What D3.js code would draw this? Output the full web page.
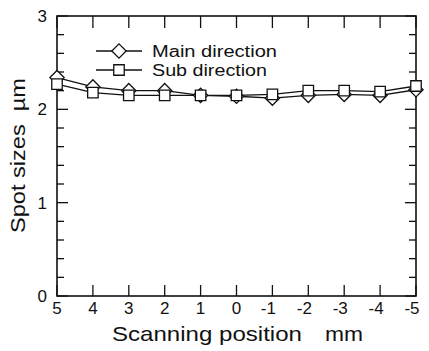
<!DOCTYPE html>
<html>
<head>
<meta charset="utf-8">
<script src="https://cdn.jsdelivr.net/npm/d3@7"></script>
<style>
  body { margin: 0; background: #fff; }
  svg { display: block; font-family: "Liberation Sans", Arial, sans-serif; }
</style>
</head>
<body>
<svg width="429" height="351"></svg>
<script>
// scanning positions, mm
const positions = [5, 4, 3, 2, 1, 0, -1, -2, -3, -4, -5];
// spot sizes, um
const mainDir = [2.34, 2.24, 2.20, 2.20, 2.15, 2.14, 2.12, 2.15, 2.16, 2.15, 2.21];
const subDir = [2.27, 2.18, 2.15, 2.15, 2.15, 2.15, 2.16, 2.20, 2.20, 2.19, 2.25];
const yTicks = [0, 1, 2, 3];
const seriesNames = ["Main direction", "Sub direction"];

const svg = d3.select("svg");
const plotL = 57, plotR = 416, plotT = 16, plotB = 296;

const x = d3.scaleLinear().domain([5, -5]).range([plotL, plotR]);
const y = d3.scaleLinear().domain([0, 3]).range([plotB, plotT]);

// frame
svg.append("rect")
  .attr("x", plotL).attr("y", plotT)
  .attr("width", plotR - plotL).attr("height", plotB - plotT)
  .attr("fill", "none").attr("stroke", "#111").attr("stroke-width", 1.6);

// y ticks (major + minor) on both sides
const minor = d3.range(0, 3.01, 0.2).map(d => +d.toFixed(1));
const ticks = svg.append("g").attr("stroke", "#111").attr("stroke-width", 1.3);
minor.forEach(v => {
  const len = yTicks.includes(v) ? 11 : 7;
  ticks.append("line").attr("x1", plotL).attr("x2", plotL + len)
    .attr("y1", y(v)).attr("y2", y(v));
  ticks.append("line").attr("x1", plotR).attr("x2", plotR - len)
    .attr("y1", y(v)).attr("y2", y(v));
});
positions.forEach(p => {
  ticks.append("line").attr("x1", x(p)).attr("x2", x(p))
    .attr("y1", plotB).attr("y2", plotB - 11);
  ticks.append("line").attr("x1", x(p)).attr("x2", x(p))
    .attr("y1", plotT).attr("y2", plotT + 12);
});

// tick labels
svg.append("g").selectAll("text").data(yTicks).enter().append("text")
  .attr("x", plotL - 10).attr("y", d => y(d) + 6)
  .attr("text-anchor", "end").attr("font-size", 17).attr("fill", "#111")
  .text(d => d);
svg.append("g").selectAll("text").data(positions).enter().append("text")
  .attr("x", d => x(d) - (d < 0 ? 4 : 0)).attr("y", plotB + 18)
  .attr("text-anchor", "middle").attr("font-size", 17).attr("fill", "#111")
  .text(d => d);

// axis titles
svg.append("text").attr("x", 112).attr("y", 341)
  .attr("font-size", 21).attr("fill", "#111")
  .attr("textLength", 190).attr("lengthAdjust", "spacingAndGlyphs")
  .text("Scanning position");
svg.append("text").attr("x", 325).attr("y", 341)
  .attr("font-size", 21).attr("fill", "#111")
  .attr("textLength", 38).attr("lengthAdjust", "spacingAndGlyphs")
  .text("mm");
svg.append("text")
  .attr("transform", "translate(25,233) rotate(-90)")
  .attr("font-size", 21).attr("fill", "#111")
  .attr("xml:space", "preserve")
  .attr("textLength", 155).attr("lengthAdjust", "spacingAndGlyphs")
  .text("Spot sizes  \u00b5m");

// lines
const line = d3.line().x((d, i) => x(positions[i])).y(d => y(d));
[mainDir, subDir].forEach(s => {
  svg.append("path").datum(s).attr("d", line)
    .attr("fill", "none").attr("stroke", "#111").attr("stroke-width", 1.3);
});

const diamond = d3.symbol().type(d3.symbolDiamond2).size(130);
const square = d3.symbol().type(d3.symbolSquare2).size(140);

svg.append("g").selectAll("path").data(mainDir).enter().append("path")
  .attr("d", diamond)
  .attr("transform", (d, i) => `translate(${x(positions[i])},${y(d)})`)
  .attr("fill", "#fff").attr("stroke", "#111").attr("stroke-width", 1.3);
svg.append("g").selectAll("path").data(subDir).enter().append("path")
  .attr("d", square)
  .attr("transform", (d, i) => `translate(${x(positions[i])},${y(d)})`)
  .attr("fill", "#fff").attr("stroke", "#111").attr("stroke-width", 1.3);

// legend
const legend = svg.append("g");
const legendWidths = [125, 115];
[diamond, square].forEach((sym, i) => {
  const ly = 51 + i * 19;
  legend.append("line").attr("x1", 96).attr("x2", 142)
    .attr("y1", ly).attr("y2", ly).attr("stroke", "#111").attr("stroke-width", 1.3);
  legend.append("path").attr("d", sym).attr("transform", `translate(119,${ly})`)
    .attr("fill", "#fff").attr("stroke", "#111").attr("stroke-width", 1.3);
  legend.append("text").attr("x", 152).attr("y", ly + 6)
    .attr("font-size", 16).attr("fill", "#111")
    .attr("textLength", legendWidths[i]).attr("lengthAdjust", "spacingAndGlyphs")
    .text(seriesNames[i]);
});
</script>
</body>
</html>
